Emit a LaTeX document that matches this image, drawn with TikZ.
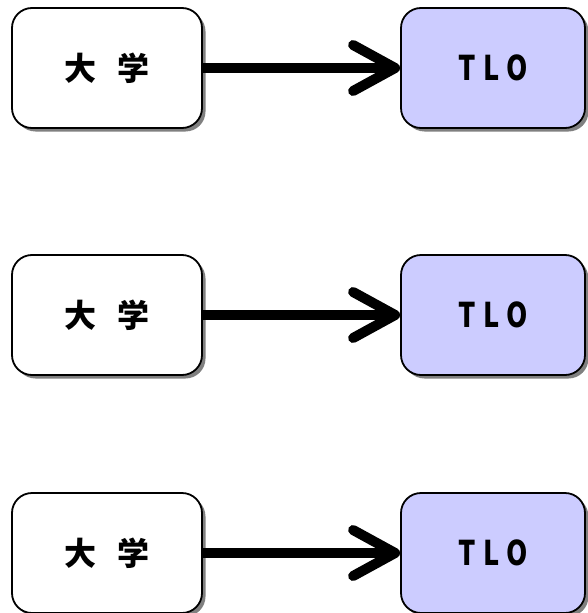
\documentclass[tikz,border=0pt]{standalone}
\usepackage{fontspec}
\setmainfont{Noto Sans CJK JP}
\newfontfamily\tlofont{Noto Sans CJK JP Medium}
\usepackage{tikz}
\usetikzlibrary{arrows.meta,shadows}
\definecolor{tlofill}{RGB}{204,204,255}

\tikzset{
    box/.style={draw, line width=1.8pt, rounded corners=20pt, minimum height=120pt,
        drop shadow={shadow xshift=3.5pt, shadow yshift=-3.5pt, fill=black!50, opacity=1},
        font=\fontsize{32}{34}\selectfont\bfseries},
    link/.style={line width=10pt,
        -{Straight Barb[length=42pt,width=46pt,line cap=round,line join=round]}}
}

\begin{document}
\begin{tikzpicture}[x=1pt,y=-1pt]
        \useasboundingbox (0,0) rectangle (587,613);
        \foreach \i/\y in {1/68, 2/315, 3/553} {
            \node[box, fill=white, minimum width=190pt] (uni\i) at (107,\y) {大\hspace{21pt}学};
            \node[box, fill=tlofill, minimum width=184pt] (tlo\i) at (493,\y)
                {\tlofont\fontsize{34}{36}\selectfont\addfontfeature{FakeStretch=0.8,LetterSpace=22}TLO};
            \draw[link] (uni\i.east) -- (tlo\i.west);
        }
    \end{tikzpicture}
\end{document}
